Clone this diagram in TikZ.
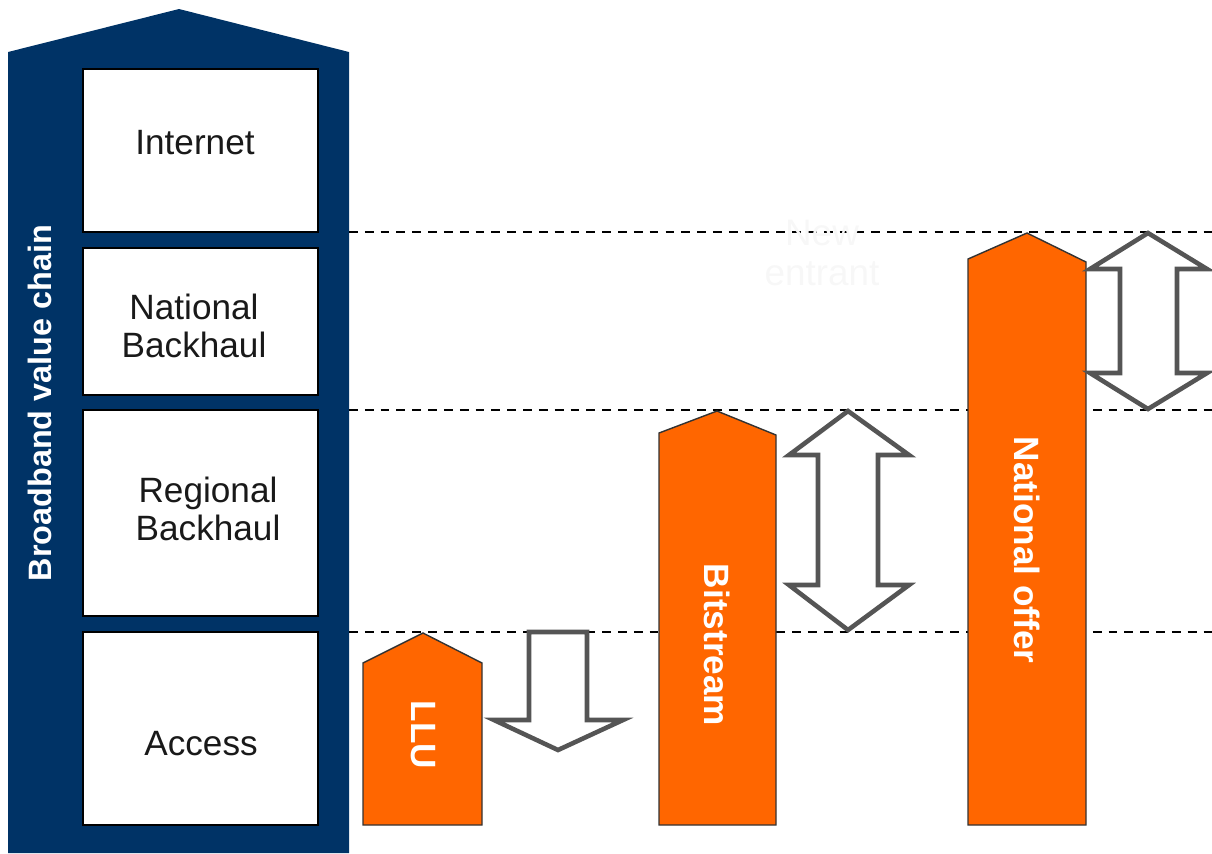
\documentclass[tikz,border=0pt]{standalone}
\usepackage{fontspec}
\setmainfont{Liberation Sans}
\usepackage{tikz}
\usetikzlibrary{calc}
\definecolor{chainblue}{RGB}{0,51,102}
\definecolor{offerorange}{RGB}{255,102,0}
\definecolor{arrowgray}{RGB}{85,85,85}

\begin{document}
\begin{tikzpicture}[x=0.01cm, y=-0.01cm,
    layerbox/.style={draw=black, fill=white, thin},
    offerbar/.style={draw=black!80, fill=offerorange, thin},
    gaparrow/.style={draw=arrowgray, fill=white, line width=1.3pt, line join=miter},
    levelline/.style={thin, dash pattern=on 2.5pt off 2pt},
    boxtext/.style={font=\fontsize{10}{11}\selectfont, align=center, text=black!90},
    bartext/.style={font=\bfseries\fontsize{10}{11}\selectfont, text=white, rotate=-90}]
    \useasboundingbox (0,0) rectangle (1212,853);
\fill[chainblue] (8,853) -- (8,52) -- (179,9) -- (349,52) -- (349,853) -- cycle;
\node[font=\bfseries\fontsize{9.2}{11}\selectfont, text=white, rotate=90] (chain) at (40,403) {Broadband value chain};
\draw[layerbox] (83,69) rectangle (318,232);
\draw[layerbox] (83,248) rectangle (318,395);
\draw[layerbox] (83,410) rectangle (318,616);
\draw[layerbox] (83,632) rectangle (318,825);
\node[boxtext] (internet) at (195,143) {Internet};
\node[boxtext] (national) at (194,326) {National\\Backhaul};
\node[boxtext] (regional) at (208,509) {Regional\\Backhaul};
\node[boxtext] (access) at (201,744) {Access};
    \draw[levelline] (349,232) -- (1212,232);
    \draw[levelline] (349,410) -- (1212,410);
    \draw[levelline] (349,632) -- (1212,632);
\node[font=\fontsize{10.5}{11.5}\selectfont, align=center, text=black!3] (entrant) at (822,253) {New\\entrant};
\draw[offerbar] (363,825) -- (363,663) -- (423,633) -- (482,663) -- (482,825) -- cycle;
\draw[offerbar] (659,825) -- (659,433) -- (717,411) -- (776,435) -- (776,825) -- cycle;
\draw[offerbar] (968,825) -- (968,259) -- (1027,233) -- (1086,262) -- (1086,825) -- cycle;
\node[bartext] (llu) at (423,735) {LLU};
\node[bartext] (bitstream) at (717,645) {Bitstream};
\node[bartext] (offer) at (1027,550) {National offer};
    \draw[gaparrow] (529,632) -- (587,632) -- (587,720) -- (623,720) -- (558,750) -- (494,720) -- (529,720) -- cycle;
    \draw[gaparrow] (848,411) -- (909,455) -- (878,455) -- (878,585) -- (909,585) -- (848,630)
        -- (789,585) -- (818,585) -- (818,455) -- (789,455) -- cycle;
    \draw[gaparrow] (1148,233) -- (1207,269) -- (1177,269) -- (1177,373) -- (1207,373) -- (1148,409)
        -- (1090,373) -- (1120,373) -- (1120,269) -- (1090,269) -- cycle;
\end{tikzpicture}
\end{document}
